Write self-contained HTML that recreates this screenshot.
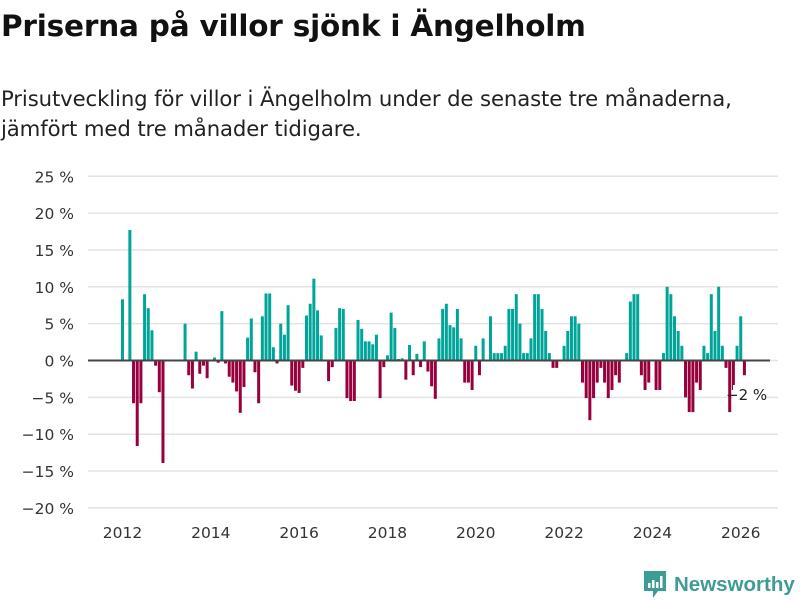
<!DOCTYPE html>
<html><head><meta charset="utf-8"><style>
body{margin:0;width:800px;height:600px;background:#fff;font-family:"DejaVu Sans","Liberation Sans",sans-serif;overflow:hidden;position:relative}
h1{position:absolute;left:1px;top:9px;margin:0;font-size:29.5px;font-weight:bold;color:#111;letter-spacing:-0.2px;white-space:nowrap}
.sub{position:absolute;left:1px;top:84px;margin:0;font-size:21.2px;line-height:30px;color:#222;white-space:nowrap;letter-spacing:-0.1px}
svg{position:absolute;left:0;top:0}
</style></head><body>
<h1>Priserna på villor sjönk i Ängelholm</h1>
<p class="sub">Prisutveckling för villor i Ängelholm under de senaste tre månaderna,<br>jämfört med tre månader tidigare.</p>
<svg id="chart" width="800" height="600"></svg>
<div style="position:absolute;left:643px;top:570px;display:flex;align-items:center">
<svg width="24" height="30" style="position:static"><path d="M1 1h22v20h-8l-5 7v-7H1z" fill="#3d9c93"/><rect x="5" y="13" width="2.5" height="5" fill="#fff"/><rect x="9" y="10" width="2.5" height="8" fill="#fff"/><rect x="13" y="12" width="2.5" height="6" fill="#fff"/><rect x="17" y="6" width="2.5" height="12" fill="#fff"/></svg>
<span style="font-weight:bold;color:#3d9c93;margin-left:7px;font-family:'Liberation Sans',sans-serif;font-size:20.5px">Newsworthy</span></div>
<script>
const values=[8.3,0,17.7,-5.8,-11.6,-5.8,9.0,7.1,4.1,-0.7,-4.3,-13.9,
0,0,0,0,0,5.0,-2.0,-3.8,1.2,-1.8,-0.7,-2.4,
0,0.4,-0.3,6.7,-0.4,-2.2,-3.0,-4.2,-7.1,-3.6,3.1,5.7,
-1.6,-5.8,6.0,9.1,9.1,1.8,-0.4,5.0,3.5,7.5,-3.4,-4.1,
-4.4,-1.0,6.1,7.7,11.1,6.8,3.4,0,-2.8,-0.9,4.4,7.1,
7.0,-5.1,-5.5,-5.5,5.5,4.3,2.6,2.6,2.2,3.5,-5.1,-0.9,
0.7,6.5,4.4,0.2,0.3,-2.6,2.1,-2.0,0.9,-0.9,2.6,-1.5,
-3.5,-5.2,3.0,7.0,7.7,4.8,4.5,7.0,3.0,-3.0,-3.0,-4.0,
2.0,-2.0,3.0,0,6.0,1.0,1.0,1.0,2.0,7.0,7.0,9.0,
5.0,1.0,1.0,3.0,9.0,9.0,7.0,4.0,1.0,-1.0,-1.0,0,
2.0,4.0,6.0,6.0,5.0,-3.0,-5.1,-8.1,-5.1,-3.0,-1.0,-3.0,
-5.1,-4.0,-2.0,-3.0,0,1.0,8.0,9.0,9.0,-2.0,-4.0,-3.0,
0,-4.0,-4.0,1.0,10.0,9.0,6.0,4.0,2.0,-5.0,-7.0,-7.0,
-3.0,-4.0,2.0,1.0,9.0,4.0,10.0,2.0,-1.0,-7.0,-4.0,2.0,
6.0,-2.0];
const yTicks=[25,20,15,10,5,0,-5,-10,-15,-20];
const xYears=[2012,2014,2016,2018,2020,2022,2024,2026];
const startYear=2012;
const NS="http://www.w3.org/2000/svg";
const svg=document.getElementById('chart');
const y=v=>360.5-v*7.37;
const x=i=>122.5+i*3.68;
function mk(t,a){const e=document.createElementNS(NS,t);for(const k in a)e.setAttribute(k,a[k]);svg.appendChild(e);return e;}
yTicks.forEach(t=>{
  const g=mk('line',{x1:88,x2:778,y1:y(t),y2:y(t),stroke:'#e2e2e2','stroke-width':1.5});
  
  
  const l=mk('text',{x:74,y:y(t)+6,'text-anchor':'end','font-size':15.5,fill:'#333'});
  l.textContent=(t<0?'−'+(-t):t)+' %';
  
  
});
values.forEach((v,i)=>{
  if(v===0)return;
  const r=mk('rect',{x:x(i)-1.5,width:3,y:Math.min(y(v),y(0)),height:Math.abs(y(v)-y(0)),fill:v>0?'#00a59a':'#97003c'});
  
  
});
const z=mk('line',{x1:88,x2:770,y1:y(0),y2:y(0),stroke:'#444','stroke-width':2});


xYears.forEach(yr=>{
  const t=mk('text',{x:x((yr-startYear)*12),y:538,'text-anchor':'middle','font-size':15.5,fill:'#333'});
  t.textContent=yr;
  
  
});
const last=values.length-1;
const bg=mk('rect',{x:733,y:385,width:32,height:18,fill:'#fff'});


const a=mk('text',{x:726,y:400,'font-size':15,fill:'#222'});
a.textContent='−'+Math.abs(values[last])+' %';


</script>
</body></html>
